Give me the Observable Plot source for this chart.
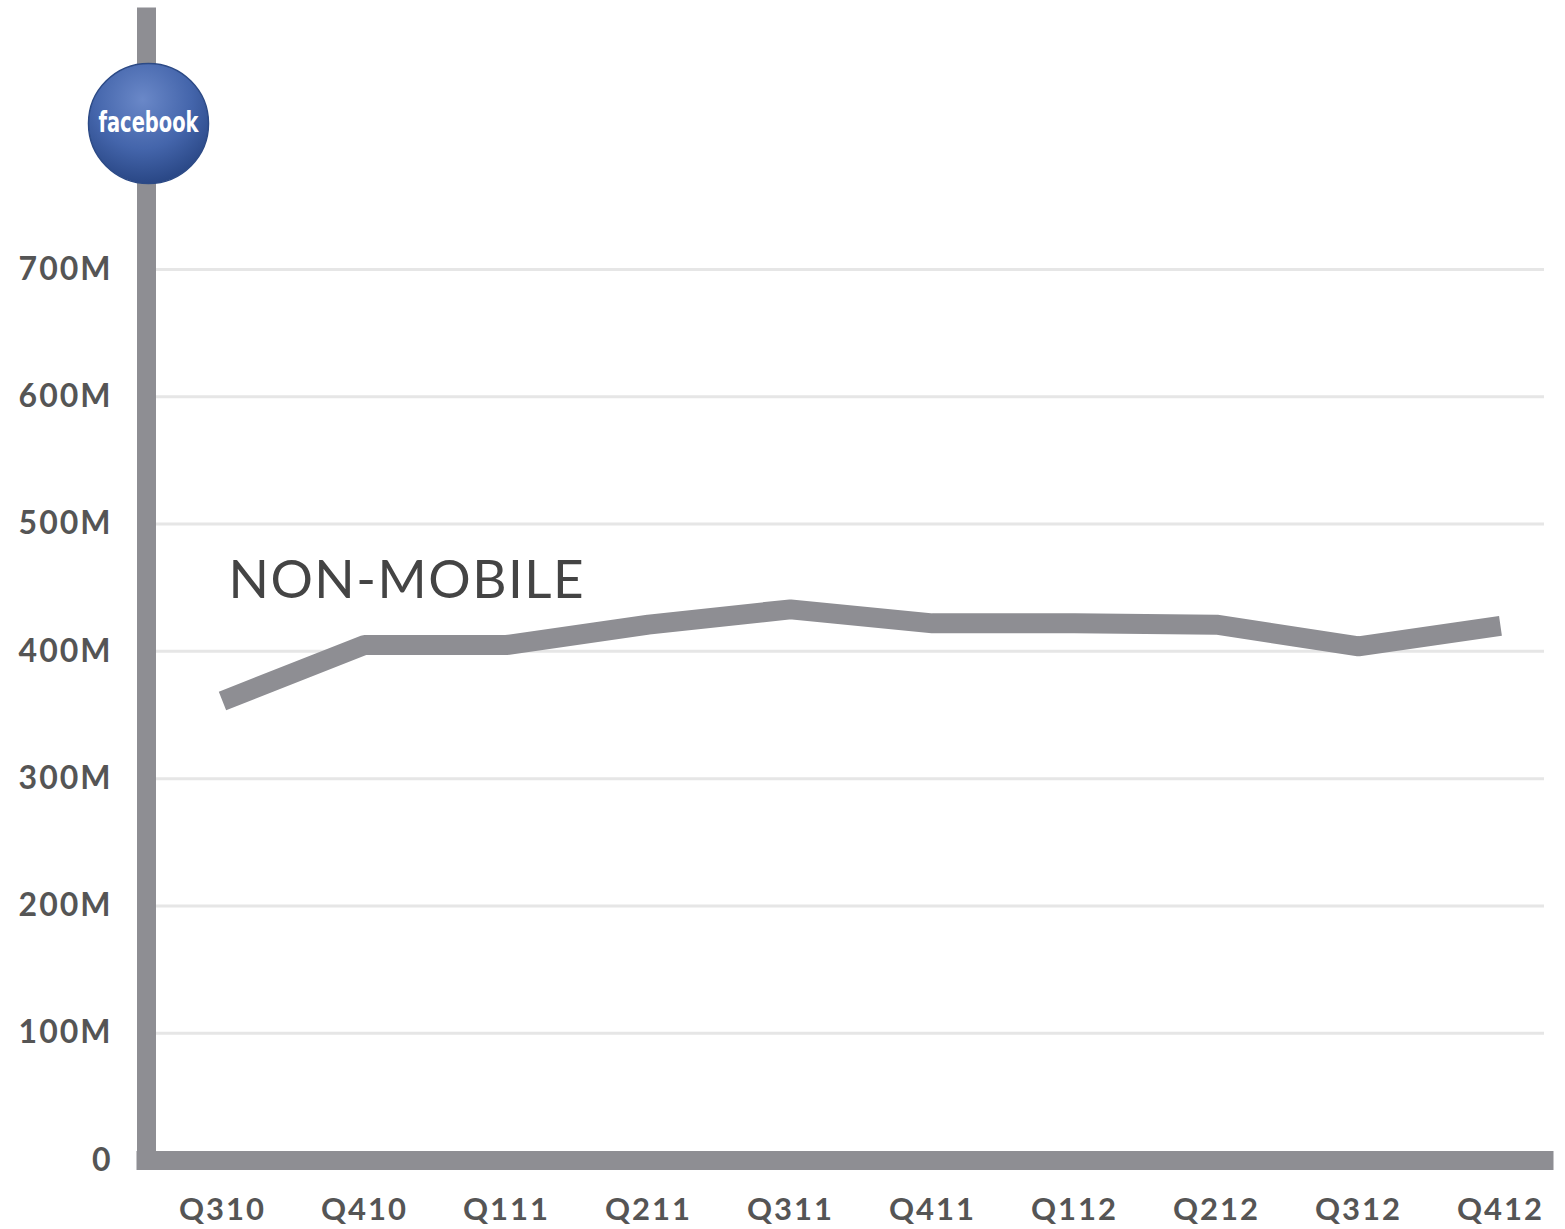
<!DOCTYPE html>
<html>
<head>
<meta charset="utf-8">
<script src="https://cdn.jsdelivr.net/npm/d3@7"></script>
<script src="https://cdn.jsdelivr.net/npm/@observablehq/plot@0.6"></script>
<style>
  html, body { margin: 0; padding: 0; background: #fff; }
  #chart svg { display: block; }
</style>
</head>
<body>
<div id="chart"></div>
<script>
// ---- data ----
const quarters = ["Q310", "Q410", "Q111", "Q211", "Q311", "Q411", "Q112", "Q212", "Q312", "Q412"];
const nonMobileUsers = [361, 405, 405, 421, 433, 422, 422, 421, 404, 420]; // millions
const yTicks = [0, 100, 200, 300, 400, 500, 600, 700];
const yTickLabels = ["0", "100M", "200M", "300M", "400M", "500M", "600M", "700M"];
const seriesLabel = "NON-MOBILE";
const logoLabel = "facebook";

const data = quarters.map((q, i) => ({i, q, v: nonMobileUsers[i]}));

const W = 1565, H = 1229;
const xDomain = [-0.535, 9.31];
const yDomain = [0, 898];
const gray = "#8e8e93";

const plot = Plot.plot({
  width: W,
  height: H,
  marginLeft: 146,
  marginRight: W - 1544,
  marginTop: 17,
  marginBottom: H - 1160,
  style: {fontFamily: "Lato, 'Open Sans', sans-serif", background: "#fff"},
  x: {type: "linear", domain: xDomain},
  y: {type: "linear", domain: yDomain},
  marks: [
    // gridlines
    Plot.ruleY(yTicks.filter(d => d > 0), {x1: xDomain[0], x2: xDomain[1], stroke: "#e6e6e6", strokeWidth: 3}),
    // axes bars
    Plot.ruleX([xDomain[0]], {y1: 0, y2: yDomain[1], stroke: gray, strokeWidth: 19, strokeLinecap: "square"}),
    Plot.ruleY([0], {x1: xDomain[0], x2: xDomain[1], stroke: gray, strokeWidth: 19, strokeLinecap: "square"}),
    // y axis labels
    Plot.axisY({ticks: yTicks, tickFormat: (d) => yTickLabels[yTicks.indexOf(d)], tickSize: 0, tickPadding: 34,
      fontSize: 32, fontWeight: 700, fill: "#555", label: null}),
    // x axis labels
    Plot.axisX({ticks: quarters.map((q, i) => i), tickFormat: d => quarters[d], tickSize: 0, tickPadding: 37,
      fontSize: 31, fontWeight: 700, fill: "#555", label: null}),
    // series line
    Plot.line(data, {x: "i", y: "v", stroke: gray, strokeWidth: 20, strokeLinejoin: "miter", strokeLinecap: "butt"}),
    // series label
    Plot.text([seriesLabel], {x: 0, y: nonMobileUsers[0], text: d => d, textAnchor: "start", dx: 6, dy: -120,
      fontSize: 53, fontWeight: 400, fill: "#444"}),
    // facebook badge
    Plot.dot([logoLabel], {frameAnchor: "top-left", dx: 2, dy: 106, r: 60, fill: "url(#fbgrad)", stroke: "#2c4a86", strokeWidth: 1.5}),
    Plot.text([logoLabel], {frameAnchor: "top-left", dx: 2, dy: 106, text: d => d, textAnchor: "middle", lineAnchor: "middle",
      fontSize: 28, fontWeight: 700, fill: "#fff",
      fontFamily: "'DejaVu Sans Condensed', 'Liberation Sans Narrow', sans-serif"})
  ]
});

const svg = d3.select(plot);
const defs = svg.insert("defs", ":first-child");
const g = defs.append("radialGradient").attr("id", "fbgrad").attr("cx", "45%").attr("cy", "30%").attr("r", "75%");
g.append("stop").attr("offset", "0%").attr("stop-color", "#6a88c8");
g.append("stop").attr("offset", "55%").attr("stop-color", "#4465ab");
g.append("stop").attr("offset", "100%").attr("stop-color", "#25427f");

// letter spacing tweaks to approximate the wide geometric typeface
svg.selectAll("g[aria-label='y-axis tick label'] text").attr("letter-spacing", 2);
svg.selectAll("g[aria-label='x-axis tick label'] text").attr("letter-spacing", 2);
svg.selectAll("g[aria-label='text'] text").each(function() {
  const t = d3.select(this);
  if (t.text() === seriesLabel) t.attr("letter-spacing", 1.5);
  if (t.text() === logoLabel) t.attr("textLength", 100).attr("lengthAdjust", "spacingAndGlyphs");
});

document.getElementById("chart").appendChild(plot);
</script>
</body>
</html>
